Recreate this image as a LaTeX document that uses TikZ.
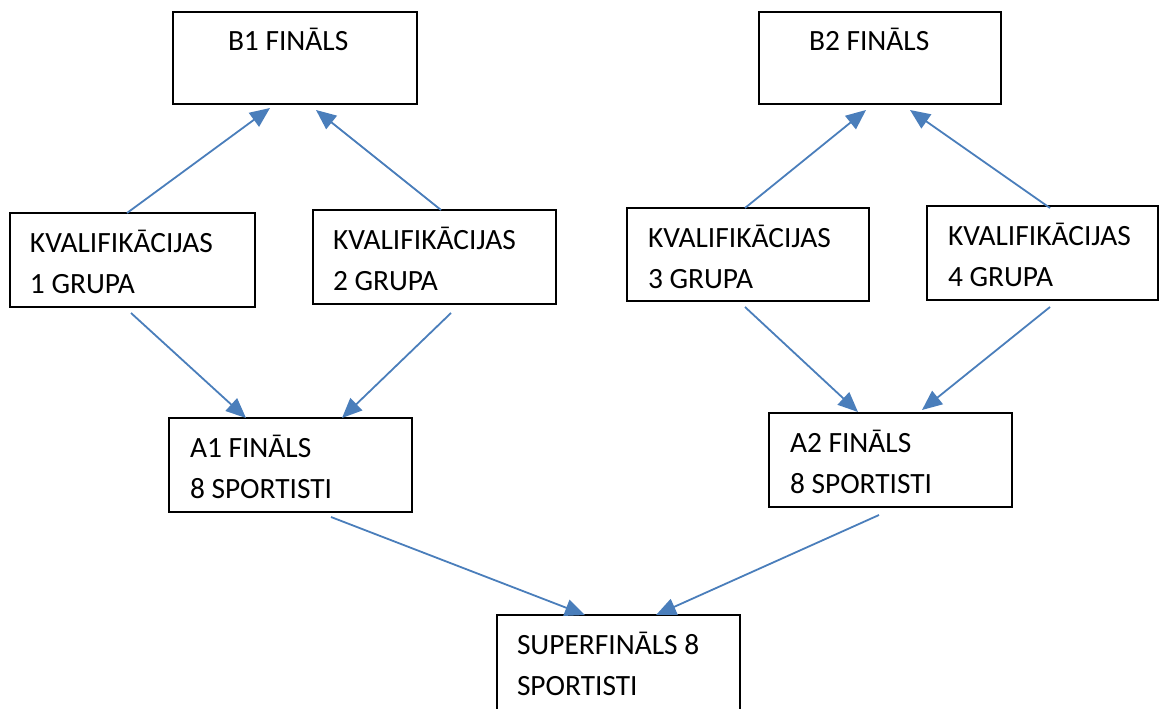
\documentclass[tikz,border=0pt]{standalone}
\usepackage{fontspec}
\setmainfont{Carlito}
\usetikzlibrary{calc,arrows.meta}
\definecolor{arrowblue}{RGB}{74,126,187}
\newcommand\boxtxt[4]{\parbox[t][#2pt][t]{#1pt}{\leftskip=#3pt\fontsize{29.4pt}{41pt}\selectfont\rule{0pt}{39pt}#4}}
\tikzset{
  box/.style={draw=black, line width=2pt, inner sep=0pt, outer sep=0pt, anchor=north west},
  conn/.style={draw=arrowblue, line width=1.8pt, -{Triangle[length=20pt,width=17pt]}}
}
\begin{document}
\begin{tikzpicture}[x=1pt,y=-1pt]
\useasboundingbox (0,0) rectangle (1160,709);
\node[box] (b1) at (173,12) {\boxtxt{244}{92}{55}{B1 FINĀLS}};
\node[box] (b2) at (759,12) {\boxtxt{242}{92}{50}{B2 FINĀLS}};
\node[box] (k1) at (10,213) {\boxtxt{245}{94}{20}{KVALIFIKĀCIJAS\\1 GRUPA}};
\node[box] (k2) at (313,210) {\boxtxt{243}{94}{20}{KVALIFIKĀCIJAS\\2 GRUPA}};
\node[box] (k3) at (627,208) {\boxtxt{242}{93}{21}{KVALIFIKĀCIJAS\\3 GRUPA}};
\node[box] (k4) at (927,206) {\boxtxt{231}{94}{21}{KVALIFIKĀCIJAS\\4 GRUPA}};
\node[box] (a1) at (169,418) {\boxtxt{243}{94}{21}{A1 FINĀLS\\8 SPORTISTI}};
\node[box] (a2) at (769,413) {\boxtxt{243}{94}{21}{A2 FINĀLS\\8 SPORTISTI}};
\node[box] (s) at (497,615) {\boxtxt{243}{110}{20}{SUPERFINĀLS 8\\SPORTISTI}};
% up arrows
\draw[conn] ($(k1.north west)+(117,0)$) -- ($(b1.south west)+(97,4)$);
\draw[conn] ($(k2.north west)+(128,0)$) -- ($(b1.south west)+(143,6)$);
\draw[conn] ($(k3.north west)+(118,0)$) -- ($(b2.south west)+(107,6)$);
\draw[conn] ($(k4.north west)+(123,2)$) -- ($(b2.south west)+(151,6)$);
% down arrows
\draw[conn] ($(k1.south west)+(121,6)$) -- ($(a1.north west)+(77,0)$);
\draw[conn] ($(k2.south west)+(138,9)$) -- ($(a1.north west)+(173,0)$);
\draw[conn] ($(k3.south west)+(118,6)$) -- ($(a2.north west)+(89,-1)$);
\draw[conn] ($(k4.south west)+(123,7)$) -- ($(a2.north west)+(153,-3)$);
\draw[conn] ($(a1.south west)+(162,5)$) -- ($(s.north west)+(88,0)$);
\draw[conn] ($(a2.south west)+(110,8)$) -- ($(s.north west)+(159,0)$);
\end{tikzpicture}
\end{document}
